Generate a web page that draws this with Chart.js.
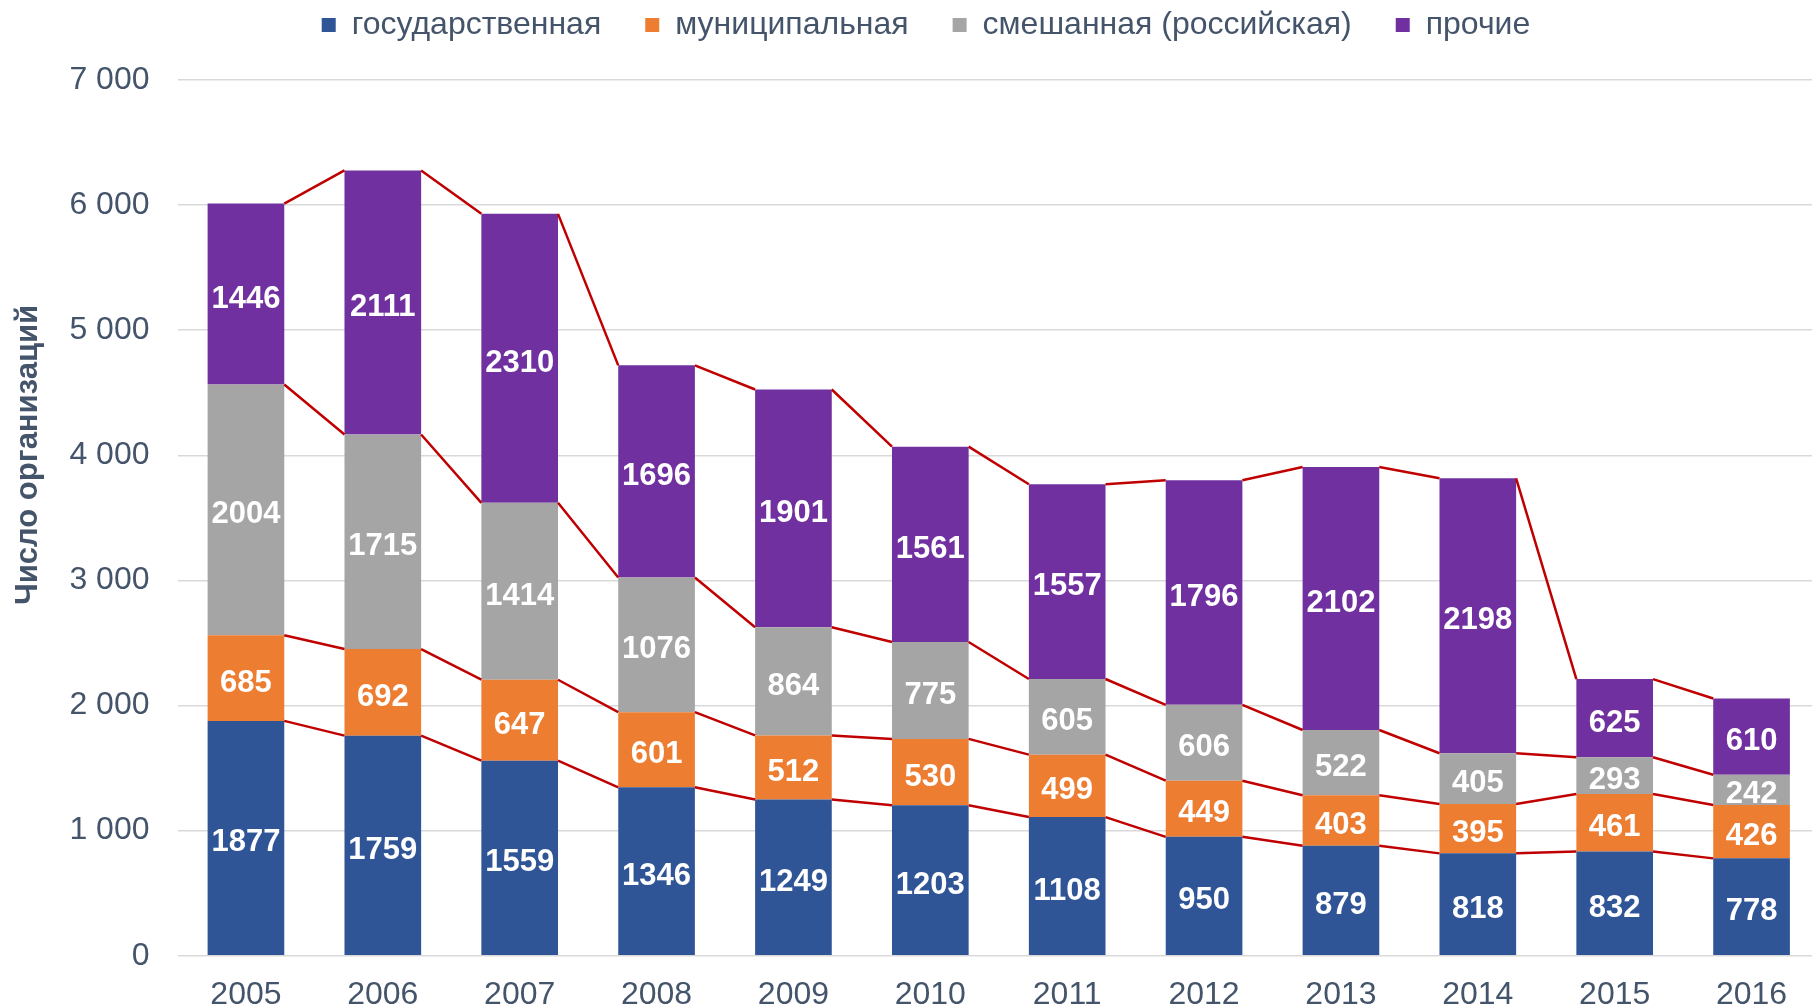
<!DOCTYPE html>
<html>
<head>
<meta charset="utf-8">
<script src="https://cdn.jsdelivr.net/npm/chart.js@4/dist/chart.umd.min.js"></script>
<style>
  html, body { margin: 0; padding: 0; overflow: hidden; background: #fff; }
  #wrap { width: 1821px; height: 1008px; position: relative; }
</style>
</head>
<body>
<div id="wrap"><canvas id="chart"></canvas></div>
<script>
const years = ['2005', '2006', '2007', '2008', '2009', '2010', '2011', '2012', '2013', '2014', '2015', '2016'];
const gosValues = [1877, 1759, 1559, 1346, 1249, 1203, 1108, 950, 879, 818, 832, 778];
const munValues = [685, 692, 647, 601, 512, 530, 499, 449, 403, 395, 461, 426];
const smeshValues = [2004, 1715, 1414, 1076, 864, 775, 605, 606, 522, 405, 293, 242];
const prochieValues = [1446, 2111, 2310, 1696, 1901, 1561, 1557, 1796, 2102, 2198, 625, 610];
const seriesNames = ['государственная', 'муниципальная', 'смешанная (российская)', 'прочие'];
const yTicks = [0, 1000, 2000, 3000, 4000, 5000, 6000, 7000];
const axisTitle = 'Число организаций';

const textColor = '#44546a';
const fontFamily = '"Liberation Sans", Arial, sans-serif';

// legend needs extra room under it, chart.js sizes it from padding only
const legendSpace = {
    id: 'legendSpace',
    beforeInit(chart) {
        const lg = chart.legend;
        if (!lg || lg._patched) return;
        const fit = lg.fit;
        lg.fit = function () {
            fit.call(this);
            this.height = 115;
        };
        lg._patched = true;
    },
    afterLayout(chart) {
        // original legend row is a bit right of centre
        chart.legend.left += 16;
        chart.legend.right += 16;
    }
};

// red series lines from the right edge of one bar to the left edge of the next
const seriesLines = {
    id: 'seriesLines',
    afterDatasetsDraw(chart) {
        const ctx = chart.ctx;
        ctx.save();
        ctx.strokeStyle = '#c00000';
        ctx.lineWidth = 2.5;
        chart.data.datasets.forEach((ds, d) => {
            const bars = chart.getDatasetMeta(d).data;
            ctx.beginPath();
            for (let i = 0; i < bars.length - 1; i++) {
                const a = bars[i], b = bars[i + 1];
                ctx.moveTo(a.x + a.width / 2, a.y);
                ctx.lineTo(b.x - b.width / 2, b.y);
            }
            ctx.stroke();
        });
        ctx.restore();
    }
};

// white values in the middle of each segment
const barLabels = {
    id: 'barLabels',
    afterDatasetsDraw(chart) {
        const ctx = chart.ctx;
        ctx.save();
        ctx.fillStyle = '#ffffff';
        ctx.font = 'bold 31px ' + fontFamily;
        ctx.textAlign = 'center';
        ctx.textBaseline = 'middle';
        chart.data.datasets.forEach((ds, d) => {
            chart.getDatasetMeta(d).data.forEach((bar, i) => {
                ctx.fillText(String(ds.data[i]), bar.x, (bar.y + bar.base) / 2 + 5);
            });
        });
        ctx.restore();
    }
};

// y axis title sits higher than the axis middle in the original
const yTitle = {
    id: 'yTitle',
    afterDraw(chart) {
        const ctx = chart.ctx;
        ctx.save();
        ctx.translate(28, 455);
        ctx.rotate(-Math.PI / 2);
        ctx.fillStyle = textColor;
        ctx.font = 'bold 31px ' + fontFamily;
        ctx.textAlign = 'center';
        ctx.textBaseline = 'middle';
        ctx.fillText(axisTitle, 0, 0);
        ctx.restore();
    }
};

const chart = new Chart(document.getElementById('chart'), {
    type: 'bar',
    data: {
        labels: years,
        datasets: [
            { label: seriesNames[0], data: gosValues, backgroundColor: '#2f5597' },
            { label: seriesNames[1], data: munValues, backgroundColor: '#ed7d31' },
            { label: seriesNames[2], data: smeshValues, backgroundColor: '#a5a5a5' },
            { label: seriesNames[3], data: prochieValues, backgroundColor: '#7030a0' }
        ]
    },
    options: {
        responsive: true,
        maintainAspectRatio: false,
        animation: false,
        datasets: {
            bar: { barPercentage: 0.56, categoryPercentage: 1, borderWidth: 0 }
        },
        layout: { padding: { top: -35, left: 0, right: 1, bottom: 0 } },
        plugins: {
            legend: {
                position: 'top',
                labels: {
                    color: textColor,
                    font: { family: fontFamily, size: 32 },
                    boxWidth: 14,
                    boxHeight: 14,
                    padding: 44
                }
            },
            tooltip: { enabled: false }
        },
        scales: {
            x: {
                stacked: true,
                grid: { display: false, drawTicks: false },
                border: { display: false },
                ticks: {
                    color: textColor,
                    font: { family: fontFamily, size: 32 },
                    padding: 20,
                    maxRotation: 0
                },
                afterFit(scale) { scale.height = 52.3; }
            },
            y: {
                stacked: true,
                min: 0,
                max: 7000,
                grid: { color: '#d9d9d9', lineWidth: 1.5, drawTicks: false },
                border: { display: false },
                afterBuildTicks(scale) { scale.ticks = yTicks.map(v => ({ value: v })); },
                ticks: {
                    color: textColor,
                    font: { family: fontFamily, size: 32 },
                    padding: 28,
                    callback: v => v === 0 ? '0' : (v / 1000) + ' 000'
                },
                afterFit(scale) { scale.width = 177.5; }
            }
        }
    },
    plugins: [legendSpace, seriesLines, barLabels, yTitle]
});
</script>
</body>
</html>
